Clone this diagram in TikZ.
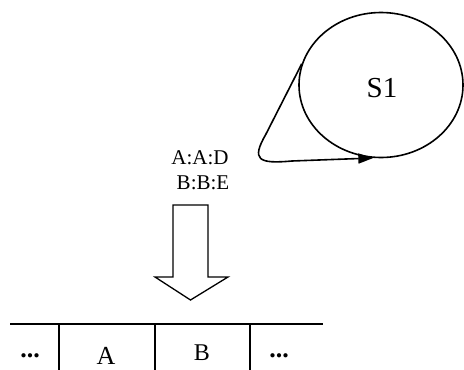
\documentclass[tikz,border=0pt]{standalone}
\usepackage{fontspec}
\setmainfont{Liberation Serif}
\usetikzlibrary{shapes.geometric,arrows.meta}
\begin{document}
\begin{tikzpicture}[x=1pt,y=-1pt,
  line width=1.6pt,
  lbl/.style={inner sep=0pt,anchor=base},
  cell/.style={lbl,font=\fontsize{26}{26}\selectfont},
  dots/.style={lbl,font=\fontsize{26}{26}\selectfont\bfseries}]
\useasboundingbox (0,0) rectangle (464,370);

% state with its self loop
\node[ellipse,draw,minimum width=164,minimum height=145,inner sep=0pt]
  (s1) at (381,85) {};
\node[font=\fontsize{29}{29}\selectfont] (s1t) at (382,88) {S1};
\draw[-{Triangle[length=15pt,width=10pt]}]
  (s1.165) -- (266,134) .. controls (251,160) and (258,164) .. (292,161)
  -- (s1.264);

% transition labels
\node[lbl,font=\fontsize{21}{21}\selectfont] (t1) at (200,164) {A:A:D};
\node[lbl,font=\fontsize{21}{21}\selectfont] (t2) at (203,189) {B:B:E};

% block arrow
\draw[line width=1.3pt] (173,205) -- (208,205) -- (208,277) -- (228,277)
  -- (190.5,300) -- (155,277) -- (173,277) -- cycle;

% tape
\coordinate (tl) at (10,324);
\coordinate (tr) at (323,324);
\draw[line width=1.8pt] (tl) -- (tr);
\draw[line width=1.1pt] (59,324) -- (59,370);
\draw[line width=2pt] (155,324) -- (155,370);
\draw[line width=1.6pt] (250,324) -- (250,370);
\node[dots] (c1) at (30,357) {...};
\node[cell] (c2) at (106,364) {A};
\node[cell,font=\fontsize{24}{24}\selectfont] (c3) at (202,360) {B};
\node[dots] (c4) at (279,357) {...};
\end{tikzpicture}
\end{document}
